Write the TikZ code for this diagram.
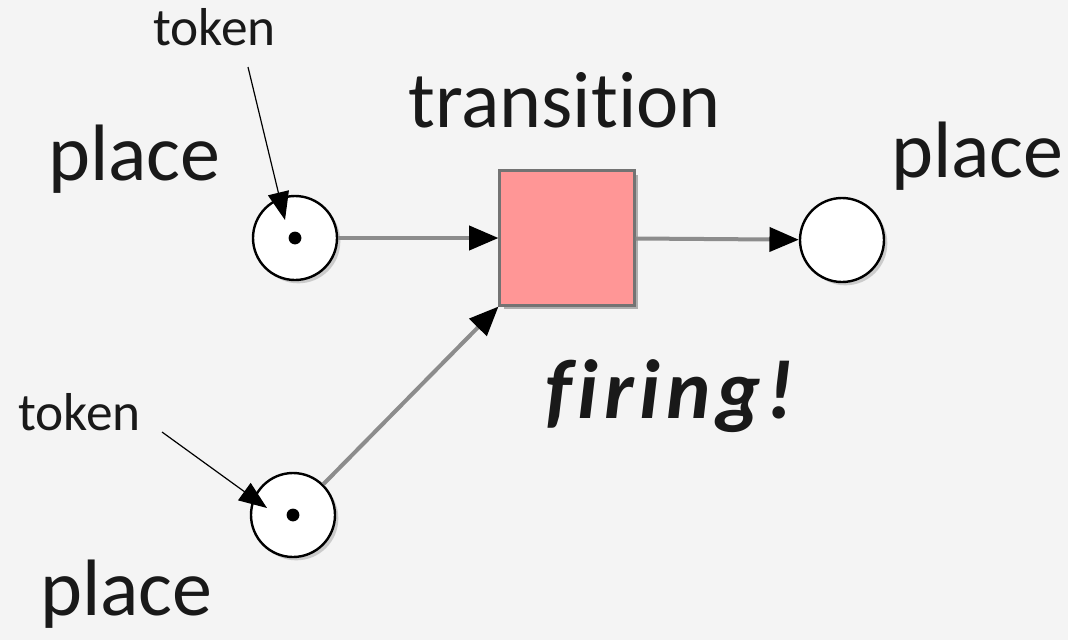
\documentclass[tikz,border=0pt]{standalone}
\usepackage{fontspec}
\setmainfont{Carlito}[Ligatures={NoCommon,NoRequired,NoContextual}]
\newfontfamily\firefont{Carlito}[Ligatures={NoCommon},LetterSpace=7]
\usetikzlibrary{arrows.meta,shadows}
\definecolor{bgcol}{HTML}{F4F4F4}
\definecolor{transfill}{HTML}{FF9696}
\definecolor{arcgray}{HTML}{8C8C8C}
\begin{document}
\begin{tikzpicture}[x=0.75pt,y=-0.75pt,
    placenode/.style={circle,draw=black,line width=1.8pt,fill=white,minimum size=63pt,inner sep=0pt,
        drop shadow={shadow xshift=2.5pt,shadow yshift=-2.5pt,opacity=.35}},
    transnode/.style={rectangle,draw=black!55,line width=1.8pt,fill=transfill,minimum size=101pt,inner sep=0pt,
        drop shadow={shadow xshift=3pt,shadow yshift=-3pt,opacity=.6}},
    arcline/.style={draw=arcgray,line width=3pt,-{Triangle[length=22pt,width=18pt,color=black]}},
    pointer/.style={draw=black,line width=0.9pt,-{Triangle[length=21pt,width=16pt]}},
    bigtext/.style={font=\fontsize{60}{72}\selectfont,text=black!90,inner sep=0pt,anchor=base west},
    smalltext/.style={font=\fontsize{40}{48}\selectfont,text=black!90,inner sep=0pt,anchor=base west}]
    \fill[bgcol] (0,0) rectangle (1068,640);
    \useasboundingbox (0,0) rectangle (1068,640);

    \node[placenode] (p1) at (295,238) {};
    \node[placenode] (p2) at (293,515) {};
    \node[placenode] (p3) at (842,240) {};
    \node[transnode] (t1) at (567,238) {};
    \fill (p1.center) circle (4.8pt);
    \fill (p2.center) circle (4.8pt);

    \draw[arcline] (p1) -- (t1);
    \draw[arcline] (t1) -- (p3);
    \draw[arcline] (p2) -- (t1.south west);

    \node[smalltext] (tok1) at (153,45) {token};
    \node[smalltext] (tok2) at (18,430) {token};
    \coordinate (from1) at (248,67);
    \coordinate (tip1) at (285,220);
    \coordinate (from2) at (162,432);
    \coordinate (tip2) at (267,508);
    \draw[pointer] (from1) -- (tip1);
    \draw[pointer] (from2) -- (tip2);

    \node[bigtext] (lbl1) at (48,180) {place};
    \node[bigtext] (lbltr) at (408,127) {transition};
    \node[bigtext] (lbl3) at (891,177) {place};
    \node[bigtext] (lbl2) at (40,615) {place};
    \node[bigtext,font=\firefont\fontsize{63}{72}\selectfont] (fire) at (545,418) {\bfseries\itshape firing!};
\end{tikzpicture}
\end{document}
